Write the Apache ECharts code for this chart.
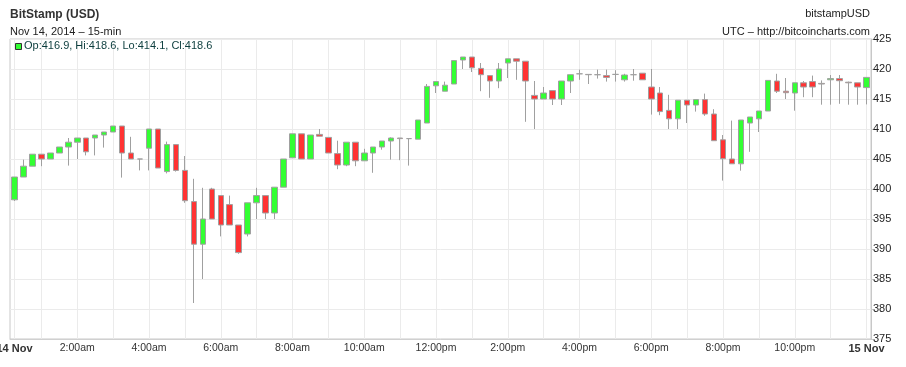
<!DOCTYPE html>
<html>
<head>
<meta charset="utf-8">
<script src="https://cdn.jsdelivr.net/npm/echarts@6/dist/echarts.min.js"></script>
<style>
html,body{margin:0;padding:0;background:#fff;}
#chart{width:906px;height:367px;}
</style>
</head>
<body>
<div id="chart"></div>
<script>
// 15-minute candles, Nov 14 2014 (BitStamp USD)
const opens  = [398.2,402.0,403.8,405.8,405.0,406.0,407.0,407.8,408.5,408.5,409.0,409.5,410.5,406.0,405.0,406.8,
                410.0,402.9,407.4,403.1,397.9,390.8,400.0,398.9,397.4,394.0,392.5,397.7,398.9,396.0,400.3,405.2,
                409.2,405.0,409.1,408.6,405.9,404.0,407.8,404.7,406.0,407.0,408.0,408.5,408.4,408.3,411.0,417.2,
                416.3,417.5,421.5,422.0,420.1,418.9,418.0,421.0,421.7,421.3,415.6,415.0,416.4,415.0,418.0,419.2,
                419.1,419.05,418.9,419.1,418.2,419.05,419.3,417.0,416.0,413.1,411.7,414.8,414.0,414.9,412.5,408.2,
                405.0,404.2,411.0,411.7,413.0,418.0,416.3,416.0,417.7,417.9,417.6,418.2,418.4,417.8,417.7,416.9];
const closes = [402.0,403.8,405.8,405.0,406.0,407.0,407.8,408.5,406.2,409.0,409.5,410.5,406.0,405.0,405.0,410.0,
                403.5,407.4,403.1,398.05,390.8,395.0,395.0,394.0,394.0,389.4,397.7,398.9,396.0,400.3,405.0,409.2,
                405.0,409.0,408.8,406.0,404.0,407.8,404.7,406.0,407.0,408.0,408.5,408.4,408.4,411.5,417.1,417.9,
                417.3,421.4,422.0,420.2,419.05,418.0,420.0,421.7,421.3,418.0,415.0,416.0,415.0,418.0,419.05,419.2,
                419.05,419.05,418.6,419.1,419.0,419.05,418.2,415.0,412.9,411.7,414.8,414.0,414.9,412.5,408.05,405.05,
                404.2,411.5,412.0,413.0,418.1,416.3,416.05,417.7,417.0,417.0,417.5,418.4,418.05,417.7,417.0,418.6];
const lows   = [398.0,402.0,403.8,403.8,405.0,406.0,403.9,405.0,405.6,405.6,406.9,409.5,401.9,405.0,403.1,403.1,
                403.5,402.6,402.9,397.7,381.0,385.0,395.0,392.1,394.0,389.2,392.1,395.0,395.0,395.0,400.3,405.2,
                405.0,405.0,408.8,406.0,403.3,403.8,403.8,404.7,402.7,406.55,404.9,404.8,403.9,408.3,411.0,416.0,
                416.3,417.5,420.0,419.5,416.3,415.2,416.8,418.5,418.2,411.2,410.0,415.0,414.0,414.0,416.0,418.2,
                417.5,418.4,417.9,417.9,417.9,418.05,418.2,412.4,412.3,410.0,410.0,411.0,412.9,412.2,408.05,401.4,
                404.2,403.05,406.2,409.5,413.0,416.0,415.0,413.05,415.3,415.3,414.05,414.05,414.2,414.05,414.05,414.1];
const highs  = [402.0,404.9,405.8,405.8,406.0,407.0,408.5,408.5,408.5,409.0,409.5,410.5,410.5,408.7,405.0,410.0,
                410.0,407.9,407.4,405.5,401.7,400.2,400.2,398.9,398.9,394.0,397.7,400.2,398.9,400.3,405.0,409.2,
                409.2,409.0,410.0,408.6,408.05,407.8,407.8,406.7,407.0,408.0,408.6,408.5,408.5,411.5,417.5,417.9,
                417.9,421.4,422.0,422.0,421.0,418.9,421.0,421.7,421.7,421.3,418.0,417.0,416.4,418.0,419.05,419.9,
                419.1,419.9,419.9,419.8,419.2,420.0,419.3,420.0,417.0,415.7,414.8,414.8,414.9,415.9,413.3,409.0,
                411.4,411.5,412.0,413.0,418.1,419.2,418.5,417.7,418.0,418.9,418.1,419.0,419.0,417.9,417.7,418.6];

// x tick labels: category index -> text
const tickIndex = [0, 7, 15, 23, 31, 39, 47, 55, 63, 71, 79, 87, 95];
const tickText  = ['14 Nov','2:00am','4:00am','6:00am','8:00am','10:00am','12:00pm','2:00pm','4:00pm','6:00pm','8:00pm','10:00pm','15 Nov'];
const boldTicks = ['14 Nov','15 Nov'];

// y axis ticks
const yMin = 375, yMax = 425, yStep = 5;

// categories: 15-minute slots
const categories = [];
for (let i = 0; i < opens.length; i++) {
  const m = i * 15;
  categories.push(String(Math.floor(m / 60)).padStart(2, '0') + ':' + String(m % 60).padStart(2, '0'));
}
const candleData = opens.map((o, i) => [o, closes[i], lows[i], highs[i]]);

const FONT = '"Liberation Sans", Arial, Helvetica, sans-serif';
const last = opens.length - 1;
const legendText = 'Op:' + opens[last].toFixed(1) + ', Hi:' + highs[last].toFixed(1) +
                   ', Lo:' + lows[last].toFixed(1) + ', Cl:' + closes[last].toFixed(1);

const chart = echarts.init(document.getElementById('chart'), null, {renderer: 'canvas'});
chart.setOption({
  animation: false,
  backgroundColor: '#fff',
  textStyle: {fontFamily: FONT},
  grid: {left: 10, right: 35, top: 39, bottom: 28, containLabel: false, outerBoundsMode: 'none',
         show: true, borderColor: '#c8c8c8', borderWidth: 1, backgroundColor: 'transparent'},
  xAxis: {
    type: 'category',
    data: categories,
    boundaryGap: true,
    axisLine: {show: true, lineStyle: {color: '#d0d0d0', width: 1}},
    axisTick: {show: false},
    splitLine: {
      show: true,
      alignWithLabel: true,
      interval: function (idx) { return idx === 0 || (idx + 1) % 4 === 0; },
      lineStyle: {color: '#ebebeb', width: 1}
    },
    axisLabel: {
      interval: function (idx) { return tickIndex.indexOf(idx) >= 0; },
      formatter: function (v, idx) {
        const k = tickIndex.indexOf(idx);
        if (k < 0) return '';
        const t = tickText[k];
        return boldTicks.indexOf(t) >= 0 ? '{b|' + t + '}' : t;
      },
      rich: {b: {fontWeight: 'bold', fontSize: 11, color: '#333', fontFamily: FONT}},
      color: '#333', fontSize: 10.5, margin: 4, fontFamily: FONT, hideOverlap: false
    }
  },
  yAxis: {
    type: 'value',
    position: 'right',
    min: yMin, max: yMax, interval: yStep,
    axisLine: {show: true, lineStyle: {color: '#c8c8c8'}},
    axisTick: {show: true, length: 4, lineStyle: {color: '#c8c8c8'}},
    splitLine: {show: true, lineStyle: {color: '#ebebeb', width: 1}},
    axisLabel: {color: '#222', fontSize: 11, margin: 2, fontFamily: FONT}
  },
  series: [{
    type: 'candlestick',
    data: candleData,
    barWidth: 6,
    itemStyle: {
      color: '#33ff33', color0: '#ff3333',
      borderColor: '#a0a0a0', borderColor0: '#a0a0a0', borderColorDoji: '#a0a0a0',
      borderWidth: 1
    }
  }],
  graphic: [
    {type: 'text', left: 10, top: 9, style: {text: 'BitStamp (USD)', font: 'bold 12px ' + FONT, fill: '#333'}},
    {type: 'text', left: 10, top: 26, style: {text: 'Nov 14, 2014 \u2013 15-min', font: '11px ' + FONT, fill: '#222'}},
    {type: 'text', right: 36, top: 8, style: {text: 'bitstampUSD', font: '11px ' + FONT, fill: '#222', align: 'right'}},
    {type: 'text', right: 36, top: 26, style: {text: 'UTC \u2013 http://bitcoincharts.com', font: '11px ' + FONT, fill: '#222', align: 'right'}},
    {type: 'rect', shape: {x: 15.5, y: 43.5, width: 6, height: 6}, style: {fill: '#33ff33', stroke: '#333', lineWidth: 1}, z: 10},
    {type: 'text', left: 24, top: 40, z: 10, style: {text: legendText, font: '11px ' + FONT, fill: '#0b3d3d'}}
  ]
});
</script>
</body>
</html>
